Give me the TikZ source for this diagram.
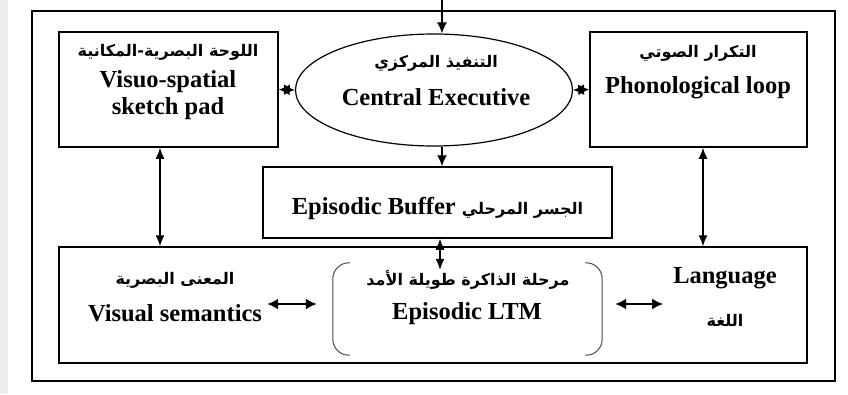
\documentclass[tikz,border=0pt]{standalone}
\usepackage{fontspec}
\setmainfont{Liberation Serif}
\newfontfamily\arabicfont[Script=Arabic]{DejaVu Sans}
\TeXXeTstate=1
\usetikzlibrary{arrows.meta,shapes.geometric}

\begin{document}
\begin{tikzpicture}[x=1pt,y=-1pt,
  frame/.style={draw,line width=1.5pt,inner sep=0pt},
  en/.style={font=\fontsize{24.5}{27}\selectfont\bfseries,align=center,inner sep=0pt},
  ar/.style={font=\arabicfont\bfseries\fontsize{16}{18}\selectfont,inner sep=0pt},
  link/.style={line width=1.4pt},
  one/.style={link,-{Latex[length=11pt,width=10pt]}},
  two/.style={link,{Latex[length=11pt,width=9pt]}-{Latex[length=11pt,width=9pt]}},
  heavy/.style={line width=2pt,{Latex[length=11pt,width=11pt]}-{Latex[length=11pt,width=11pt]}},
  paren/.style={draw=black!70,line width=1pt,rounded corners=16pt}]

% page background and canvas size
\fill[white] (0,0) rectangle (848,394);
\fill[black!7] (0,0) rectangle (8,394);
\useasboundingbox (0,0) rectangle (848,394);

% outer frame
\node[frame,minimum width=803pt,minimum height=370pt] (outer) at (433.5,196) {};

% upper row: sketch pad, central executive, phonological loop
\node[frame,minimum width=219pt,minimum height=115pt] (vis) at (168.5,89.5) {};
\node[ar] (visAr) at (168,52) {\beginR اللوحة البصرية-المكانية\endR};
\node[en] (visEn) at (168,95) {Visuo-spatial\\sketch pad};

\node[frame,ellipse,line width=1.2pt,minimum width=277pt,minimum height=112pt] (ce) at (434,90) {};
\node[ar] (ceAr) at (436,63) {\beginR التنفيذ المركزي\endR};
\node[en] (ceEn) at (436,97) {Central Executive};

\node[frame,minimum width=217pt,minimum height=115pt] (pl) at (698.5,89.5) {};
\node[ar] (plAr) at (698,53) {\beginR التكرار الصوتي\endR};
\node[en] (plEn) at (698,88) {Phonological loop};

% episodic buffer
\node[frame,minimum width=349pt,minimum height=71pt] (eb) at (437.5,202.5) {};
\node[en] (ebEn) at (437.5,208) {Episodic Buffer {\arabicfont\fontsize{16}{18}\selectfont\beginR الجسر المرحلي\endR}};

% long-term stores
\node[frame,minimum width=748pt,minimum height=116pt] (lower) at (433,305) {};
\node[ar] (vsAr) at (175,280) {\beginR المعنى البصرية\endR};
\node[en] (vsEn) at (175,313) {Visual semantics};

\node[inner sep=0pt,minimum width=269pt,minimum height=92pt] (ltm) at (467.5,309) {};
\node[ar] (ltmAr) at (468,280) {\beginR مرحلة الذاكرة طويلة الأمد\endR};
\node[en] (ltmEn) at (467,314) {Episodic LTM};
\draw[paren] ([xshift=17pt]ltm.north west) -- (ltm.north west) -- (ltm.south west) -- ([xshift=17pt]ltm.south west);
\draw[paren] ([xshift=-17pt]ltm.north east) -- (ltm.north east) -- (ltm.south east) -- ([xshift=-17pt]ltm.south east);

\node[en] (langEn) at (725,278) {Language};
\node[ar] (langAr) at (725,320) {\beginR اللغة\endR};

% connectors
\coordinate (src) at (442,0);
\draw[one] (src) -- (src |- ce.north);
\draw[heavy] (vis.east) -- (ce.west);
\draw[heavy] (ce.east) -- (pl.west);
\draw[one] ([xshift=8pt]ce.south) -- ([xshift=4.5pt]eb.north);
\draw[two] ([xshift=-8.5pt]vis.south) -- ([xshift=-8.5pt]vis.south |- lower.north);
\draw[two] ([xshift=4.5pt]pl.south) -- ([xshift=4.5pt]pl.south |- lower.north);
\draw[two] ([xshift=2.5pt]eb.south) -- ([shift={(-27.5,7)}]ltm.north);
\draw[heavy] ([shift={(5,-9)}]vsEn.east) -- ([shift={(-16,-5)}]ltm.west);
\draw[heavy] ([shift={(13,-5)}]ltm.east) -- ([shift={(61,-5)}]ltm.east);
\end{tikzpicture}
\end{document}
